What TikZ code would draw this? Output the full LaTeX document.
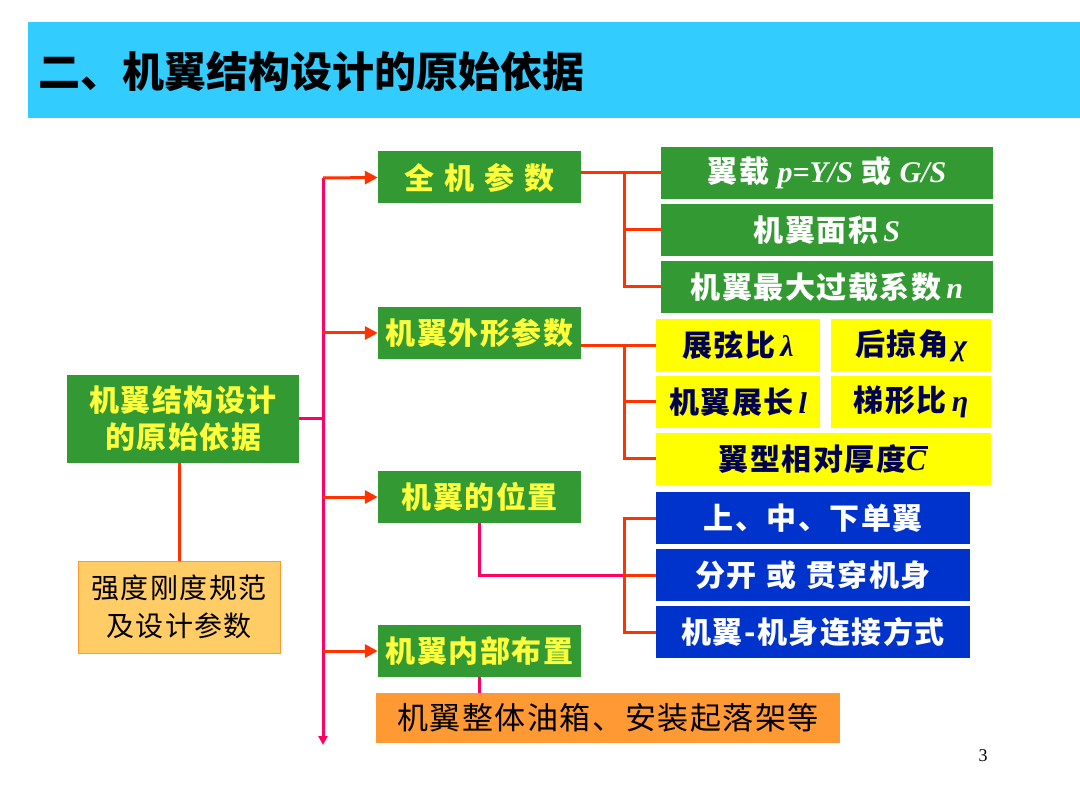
\documentclass[tikz,border=0pt]{standalone}
\usepackage{fontspec}
\usetikzlibrary{arrows.meta}
\newfontfamily\cjk{Noto Sans CJK SC}
\newfontfamily\cjkls{Noto Sans CJK SC}[LetterSpace=5]
\newfontfamily\kai{Noto Sans CJK SC}[LetterSpace=5]
\newfontfamily\tms{Liberation Serif}
\newcommand\tmsbi{\tms\bfseries\itshape}
\newcommand\gap{\hspace{10pt}}
\newcommand\Cbar{{\tmsbi\setbox0\hbox{C}\vbox{\offinterlineskip\hbox{\kern4pt\vrule width\dimexpr\wd0-2pt\relax height 2.4pt depth 0pt}\kern2pt\box0}}}
\definecolor{titlebg}{RGB}{51,204,255}
\definecolor{gr}{RGB}{51,153,51}
\definecolor{ylw}{RGB}{255,255,0}
\definecolor{ytxt}{RGB}{255,255,60}
\definecolor{bl}{RGB}{0,51,204}
\definecolor{org}{RGB}{255,153,51}
\definecolor{lorg}{RGB}{255,204,102}
\definecolor{redl}{RGB}{255,51,0}
\definecolor{pinkl}{RGB}{255,0,102}
\definecolor{navy}{RGB}{0,0,80}
\tikzset{
  box/.style={rectangle, inner sep=0pt, align=center, anchor=center},
  gbox/.style={box, fill=gr, text=ytxt, font={\kai\bfseries\fontsize{30}{37}\selectfont}},
  wbox/.style={box, fill=gr, text=white, font={\kai\bfseries\fontsize{30}{32}\selectfont}, minimum width=332pt, minimum height=52pt},
  ybox/.style={box, fill=ylw, text=navy, font={\kai\bfseries\fontsize{30}{32}\selectfont}, minimum height=52pt},
  bbox/.style={box, fill=bl, text=white, font={\kai\bfseries\fontsize{30}{32}\selectfont}, minimum width=314pt, minimum height=52pt},
  qbox/.style={gbox, minimum width=203pt, minimum height=52pt},
  redline/.style={draw=redl, line width=3pt},
  pinkline/.style={draw=pinkl, line width=3pt},
  arr/.style={redline, -{Triangle[length=13pt,width=13pt]}}
}
\begin{document}
\begin{tikzpicture}[x=1pt,y=-1pt]
\useasboundingbox (0,0) rectangle (1080,810);
\fill[white] (0,0) rectangle (1080,810);
% title
\fill[titlebg] (28,22) rectangle (1080,118);
\node[anchor=west, inner sep=0pt, font={\cjk\bfseries\fontsize{42}{44}\selectfont}] (title) at (38,72) {二、机翼结构设计的原始依据};
% left boxes
\node[gbox, minimum width=232pt, minimum height=88pt, font={\kai\bfseries\fontsize{30}{37}\selectfont}] (main) at (183,419) {机翼结构设计\\的原始依据};
\node[box, fill=lorg, draw=org, line width=0.8pt, minimum width=202pt, minimum height=92pt, font={\cjkls\fontsize{28}{38}\selectfont}] (spec) at (179,607) {强度刚度规范\\及设计参数};
% second level
\node[qbox] (q1) at (479.5,177.5) {全\gap 机\gap 参\gap 数};
\node[qbox] (q2) at (479.5,333) {机翼外形参数};
\node[qbox] (q3) at (479.5,497) {机翼的位置};
\node[qbox] (q4) at (479.5,651) {机翼内部布置};
\node[box, fill=org, minimum width=464pt, minimum height=50pt, font={\cjkls\fontsize{31}{34}\selectfont}] (tank) at (608,718) {机翼整体油箱、安装起落架等};
% right green
\node[wbox] (r1) at (827,173) {翼载 {\tmsbi p=Y/S} 或 {\tmsbi G/S}};
\node[wbox] (r2) at (827,230) {机翼面积\,{\tmsbi S}};
\node[wbox] (r3) at (827,287) {机翼最大过载系数\,{\tmsbi n}};
% yellow
\node[ybox, minimum width=164pt, minimum height=53pt] (y1) at (738,345.5) {展弦比\,{\tmsbi λ}};
\node[ybox, minimum width=160pt, minimum height=53pt] (y2) at (911,345.5) {后掠角\,{\tmsbi χ}};
\node[ybox, minimum width=164pt] (y3) at (738,402) {机翼展长\,{\tmsbi l}};
\node[ybox, minimum width=160pt] (y4) at (911,402) {梯形比\,{\tmsbi η}};
\node[ybox, minimum width=335pt] (y5) at (823.5,459) {翼型相对厚度\Cbar};
% blue
\node[bbox] (b1) at (813,518) {上、中、下单翼};
\node[bbox] (b2) at (813,575) {分开\gap 或\gap 贯穿机身};
\node[bbox] (b3) at (813,632) {机翼-机身连接方式};
% page number
\node[inner sep=0pt, font={\tms\fontsize{18}{20}\selectfont}] (pg) at (983,756) {3};
% trunk
\coordinate (ttop) at (323,178);
\coordinate (tbot) at (323,745);
\draw[pinkline, -{Triangle[length=9pt,width=9pt]}] (ttop) -- (tbot);
\draw[pinkline] (main.east) -- (main.east -| ttop);
\draw[redline] (spec.north |- main.south) -- (spec.north);
\draw[arr] (ttop) -- (q1.west);
\draw[arr] (q2.west -| ttop) -- (q2.west);
\draw[arr] (q3.west -| ttop) -- (q3.west);
\draw[arr] (q4.west -| ttop) -- (q4.west);
% group 1
\coordinate (g1) at (624,173);
\draw[redline] (q1.east |- r1.west) -- (r1.west);
\draw[redline] (g1) -- (g1 |- r3.west) -- (r3.west);
\draw[redline] (g1 |- r2.west) -- (r2.west);
% group 2
\coordinate (g2) at (624,345.5);
\draw[redline] (q2.east |- y1.west) -- (y1.west);
\draw[redline] (g2) -- (g2 |- y5.west) -- (y5.west);
\draw[redline] (g2 |- y3.west) -- (y3.west);
% group 3
\coordinate (g3) at (624,518);
\draw[pinkline] (q3.south) -- (q3.south |- b2.west) -- (g3 |- b2.west);
\draw[redline] (b1.west) -- (g3) -- (g3 |- b3.west) -- (b3.west);
\draw[redline] (g3 |- b2.west) -- (b2.west);
% group 4
\draw[pinkline] (q4.south) -- (tank.north -| q4.south);
\end{tikzpicture}
\end{document}
